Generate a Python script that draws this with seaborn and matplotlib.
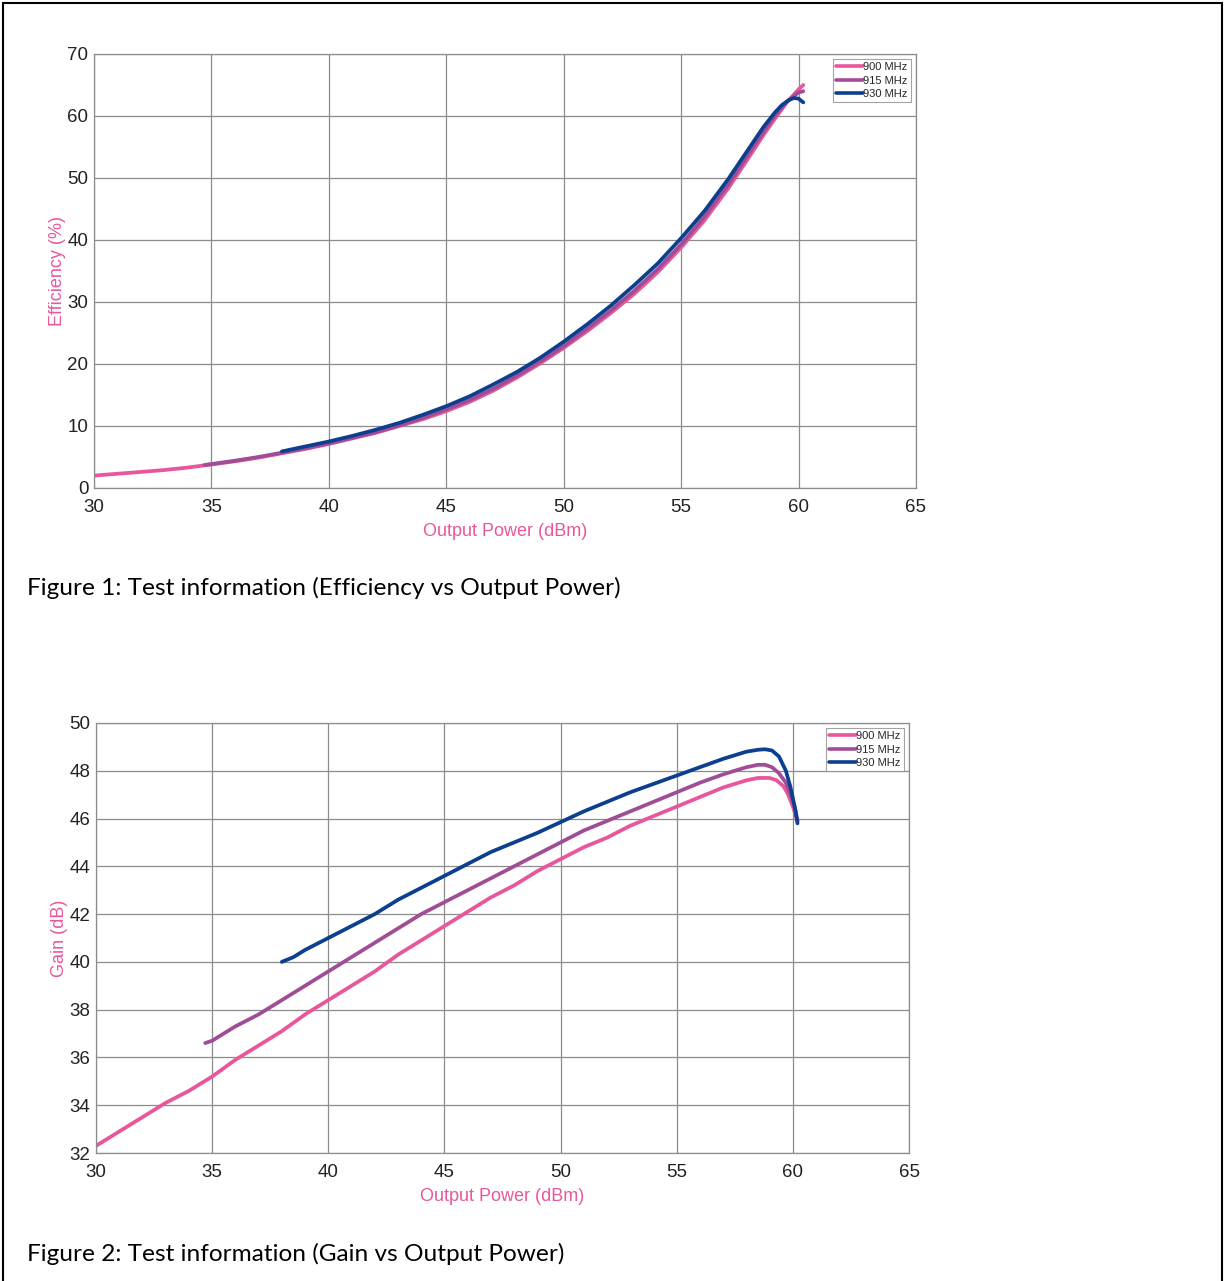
import pandas as pd
import numpy as np
import matplotlib.pyplot as plt
import matplotlib.patches as mpatches
import seaborn as sns

sns.set_style('white')
plt.rcParams['font.family'] = ['Liberation Sans', 'DejaVu Sans']

# Efficiency (%) vs output power (dBm)
eff_900_x = [30, 31, 32, 33, 34, 35, 36, 37, 38, 39, 40, 41, 42, 43, 44, 45, 46, 47, 48, 49, 50, 51, 52, 53, 54, 55,
             56, 57, 58, 58.5, 59, 59.5, 60, 60.2]
eff_900_y = [2.0, 2.3, 2.6, 2.9, 3.3, 3.8, 4.3, 4.9, 5.6, 6.3, 7.1, 8.0, 8.9, 10.0, 11.1, 12.4, 13.9, 15.7, 17.8, 20.1,
             22.6, 25.3, 28.2, 31.3, 34.8, 38.8, 43.2, 48.3, 54.0, 56.9, 59.6, 62.2, 64.3, 65.0]
eff_915_x = [34.7, 36, 37, 38, 39, 40, 41, 42, 43, 44, 45, 46, 47, 48, 49, 50, 51, 52, 53, 54, 55, 56, 57, 58, 58.5,
             59, 59.5, 60, 60.2]
eff_915_y = [3.7, 4.4, 5.0, 5.7, 6.4, 7.2, 8.1, 9.0, 10.1, 11.3, 12.7, 14.2, 16.0, 18.1, 20.4, 22.9, 25.7, 28.6, 31.8,
             35.3, 39.3, 43.8, 48.9, 54.6, 57.4, 60.1, 62.3, 63.8, 64.0]
eff_930_x = [38, 39, 40, 41, 42, 43, 44, 45, 46, 47, 48, 49, 50, 51, 52, 53, 54, 55, 56, 57, 58, 58.5, 59, 59.3,
             59.6, 59.8, 60, 60.2]
eff_930_y = [5.9, 6.7, 7.5, 8.4, 9.4, 10.5, 11.8, 13.2, 14.8, 16.7, 18.7, 21.0, 23.6, 26.4, 29.4, 32.7, 36.2, 40.3,
             44.7, 49.8, 55.4, 58.2, 60.6, 61.8, 62.6, 62.9, 62.8, 62.2]

# Gain (dB) vs output power (dBm)
gain_900_x = [30, 31, 32, 33, 34, 35, 36, 37, 38, 39, 40, 41, 42, 43, 44, 45, 46, 47, 48, 49, 50, 51, 52, 53, 54, 55,
              56, 57, 57.5, 58, 58.5, 59, 59.3, 59.6, 59.8, 60, 60.1, 60.2]
gain_900_y = [32.3, 32.9, 33.5, 34.1, 34.6, 35.2, 35.9, 36.5, 37.1, 37.8, 38.4, 39.0, 39.6, 40.3, 40.9, 41.5, 42.1,
              42.7, 43.2, 43.8, 44.3, 44.8, 45.2, 45.7, 46.1, 46.5, 46.9, 47.3, 47.45, 47.6, 47.7, 47.7, 47.6, 47.35,
              47.0, 46.5, 46.2, 45.9]
gain_915_x = [34.7, 35, 36, 37, 38, 39, 40, 41, 42, 43, 44, 45, 46, 47, 48, 49, 50, 51, 52, 53, 54, 55, 56, 57, 57.5,
              58, 58.5, 58.8, 59.1, 59.4, 59.7, 59.9, 60.1, 60.2]
gain_915_y = [36.6, 36.7, 37.3, 37.8, 38.4, 39.0, 39.6, 40.2, 40.8, 41.4, 42.0, 42.5, 43.0, 43.5, 44.0, 44.5, 45.0,
              45.5, 45.9, 46.3, 46.7, 47.1, 47.5, 47.85, 48.0, 48.15, 48.25, 48.25, 48.15, 47.9, 47.5, 47.0, 46.4, 45.9]
gain_930_x = [38, 38.5, 39, 40, 41, 42, 43, 44, 45, 46, 47, 48, 49, 50, 51, 52, 53, 54, 55, 56, 57, 57.5, 58, 58.5,
              58.8, 59.1, 59.4, 59.7, 59.9, 60.1, 60.2]
gain_930_y = [40.0, 40.2, 40.5, 41.0, 41.5, 42.0, 42.6, 43.1, 43.6, 44.1, 44.6, 45.0, 45.4, 45.85, 46.3, 46.7, 47.1,
              47.45, 47.8, 48.15, 48.5, 48.65, 48.8, 48.88, 48.9, 48.85, 48.6, 48.0, 47.3, 46.4, 45.8]

freqs = ['900 MHz', '915 MHz', '930 MHz']
colors = {'900 MHz': '#e8579b', '915 MHz': '#a04d98', '930 MHz': '#0c3f8e'}
pink = '#e8579b'


def long_df(xs, ys):
    parts = []
    for f, x, y in zip(freqs, xs, ys):
        parts.append(pd.DataFrame({'pout': x, 'val': y, 'freq': f}))
    return pd.concat(parts, ignore_index=True)


df_eff = long_df([eff_900_x, eff_915_x, eff_930_x], [eff_900_y, eff_915_y, eff_930_y])
df_gain = long_df([gain_900_x, gain_915_x, gain_930_x], [gain_900_y, gain_915_y, gain_930_y])

fig = plt.figure(figsize=(12.25, 12.81), dpi=100)

# page frame
fig.patches.append(mpatches.Rectangle((3 / 1225, -0.05), 1219 / 1225, 1 - 3 / 1281 + 0.05,
                                      transform=fig.transFigure, fill=False,
                                      edgecolor='black', linewidth=1.5))


def style_axes(ax, xlim, ylim, yticks, ylabel):
    ax.set_xlim(*xlim)
    ax.set_ylim(*ylim)
    ax.set_xticks(np.arange(30, 66, 5))
    ax.set_yticks(yticks)
    ax.grid(True, color='#8c8c8c', linewidth=0.9)
    for s in ax.spines.values():
        s.set_color('#8c8c8c')
        s.set_linewidth(0.9)
    ax.tick_params(axis='both', length=0, labelsize=13.5, colors='#222222')
    ax.tick_params(axis='x', pad=8)
    ax.tick_params(axis='y', pad=4)
    ax.set_xlabel('Output Power (dBm)', color=pink, fontsize=13, labelpad=5)
    ax.set_ylabel(ylabel, color=pink, fontsize=13, labelpad=1)
    handles = [plt.Line2D([0], [0], color=colors[f], lw=2.6) for f in freqs]
    leg = ax.legend(handles, freqs, loc='upper right', fontsize=8, frameon=True,
                    fancybox=False, handlelength=2.4, handletextpad=0.05,
                    borderpad=0.3, labelspacing=0.3, borderaxespad=0.45)
    leg.get_frame().set_edgecolor('#8c8c8c')
    leg.get_frame().set_linewidth(0.8)


ax1 = fig.add_axes([94 / 1225, 1 - 488 / 1281, 822 / 1225, 434 / 1281])
sns.lineplot(data=df_eff, x='pout', y='val', hue='freq', palette=colors, sort=False,
             estimator=None, linewidth=2.7, ax=ax1, legend=False)
style_axes(ax1, (30, 65), (0, 70), np.arange(0, 71, 10), 'Efficiency (%)')

ax2 = fig.add_axes([96 / 1225, 1 - 1153 / 1281, 813 / 1225, 430 / 1281])
sns.lineplot(data=df_gain, x='pout', y='val', hue='freq', palette=colors, sort=False,
             estimator=None, linewidth=2.7, ax=ax2, legend=False)
style_axes(ax2, (30, 65), (32, 50), np.arange(32, 51, 2), 'Gain (dB)')

fig.text(27 / 1225, 1 - 588 / 1281, 'Figure 1: Test information (Efficiency vs Output Power)',
         fontsize=17.6, family=['Lato', 'DejaVu Sans'], va='center', ha='left', color='black')
fig.text(27 / 1225, 1 - 1254 / 1281, 'Figure 2: Test information (Gain vs Output Power)',
         fontsize=17.6, family=['Lato', 'DejaVu Sans'], va='center', ha='left', color='black')

fig.savefig('out.png', dpi=100, facecolor='white')
